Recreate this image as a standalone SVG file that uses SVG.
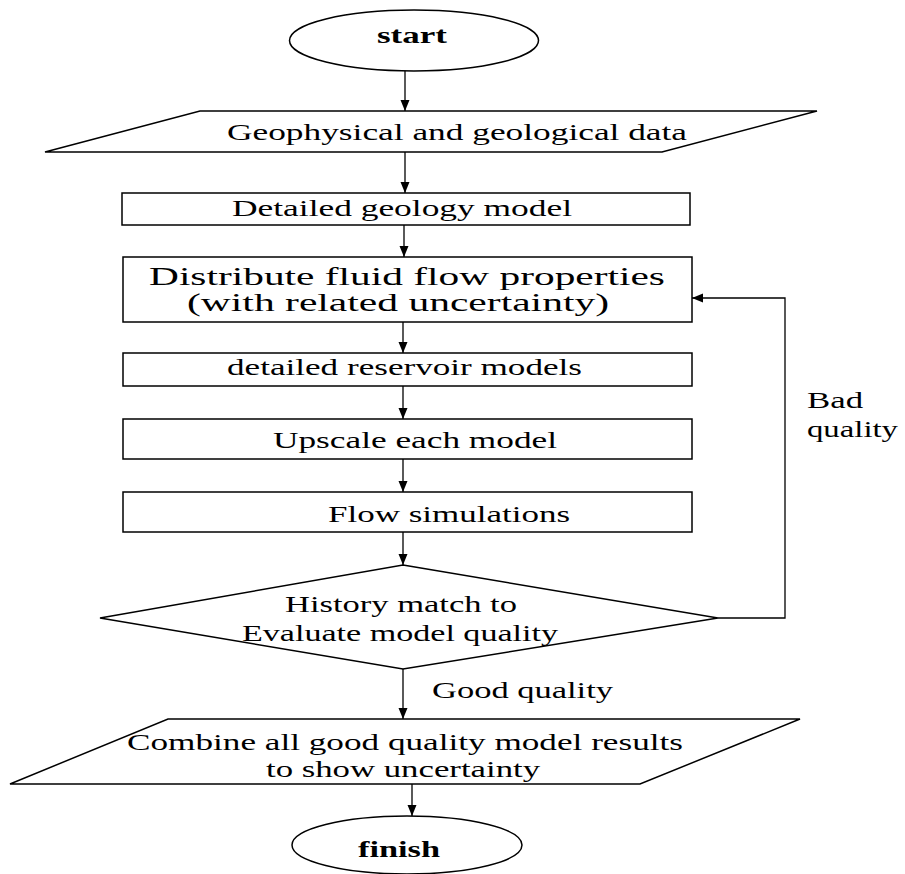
<svg xmlns="http://www.w3.org/2000/svg" width="905" height="874" viewBox="0 0 905 874">
<style>
.shape{fill:#fff;stroke:#000;stroke-width:1.5}
.conn{fill:none;stroke:#000;stroke-width:1.3}
text{font-family:"Liberation Serif","Times New Roman",serif;font-size:24px;fill:#000}
.b{font-weight:bold}
.big{font-size:25px}
</style>
<defs>
<marker id="arr" markerUnits="userSpaceOnUse" markerWidth="12" markerHeight="10" refX="11" refY="4.5" orient="auto">
<path d="M0,0 L11,4.5 L0,9 z" fill="#000"/>
</marker>
</defs>
<rect width="905" height="874" fill="#fff"/>
<g id="connectors">
<line class="conn" x1="405" y1="71" x2="405" y2="111" marker-end="url(#arr)"/>
<line class="conn" x1="405" y1="152" x2="405" y2="193" marker-end="url(#arr)"/>
<line class="conn" x1="404" y1="225" x2="404" y2="257" marker-end="url(#arr)"/>
<line class="conn" x1="403" y1="322" x2="403" y2="353" marker-end="url(#arr)"/>
<line class="conn" x1="403" y1="386" x2="403" y2="419" marker-end="url(#arr)"/>
<line class="conn" x1="403" y1="459" x2="403" y2="492" marker-end="url(#arr)"/>
<line class="conn" x1="403" y1="532" x2="403" y2="565" marker-end="url(#arr)"/>
<line class="conn" x1="403" y1="669" x2="403" y2="719" marker-end="url(#arr)"/>
<line class="conn" x1="412" y1="784" x2="412" y2="816" marker-end="url(#arr)"/>
<polyline class="conn" points="718,618 785,618 785,298 692,298" marker-end="url(#arr)"/>
<text transform="matrix(1.467 0 0 1 807 408)" textLength="38.2" lengthAdjust="spacingAndGlyphs">Bad</text>
<text transform="matrix(1.467 0 0 1 807 437)" textLength="62" lengthAdjust="spacingAndGlyphs">quality</text>
<text transform="matrix(1.467 0 0 1 432 698)" textLength="123.4" lengthAdjust="spacingAndGlyphs">Good quality</text>
</g>
<g id="start">
<ellipse class="shape" cx="414" cy="40.5" rx="124.5" ry="30.5"/>
<text class="b" transform="matrix(1.467 0 0 1 377 43)" textLength="47.7" lengthAdjust="spacingAndGlyphs">start</text>
</g>
<g id="data">
<polygon class="shape" points="200,111 817,111 662,152 45,152"/>
<text transform="matrix(1.467 0 0 1 227 140)" textLength="313.6" lengthAdjust="spacingAndGlyphs">Geophysical and geological data</text>
</g>
<g id="geology">
<rect class="shape" x="122" y="193" width="568" height="32"/>
<text transform="matrix(1.467 0 0 1 232 216)" textLength="231.8" lengthAdjust="spacingAndGlyphs">Detailed geology model</text>
</g>
<g id="distribute">
<rect class="shape" x="123" y="257" width="569" height="65"/>
<text class="big" transform="matrix(1.467 0 0 1 149 285)" textLength="351.7" lengthAdjust="spacingAndGlyphs">Distribute fluid flow properties</text>
<text class="big" transform="matrix(1.467 0 0 1 187 311)" textLength="287.7" lengthAdjust="spacingAndGlyphs">(with related uncertainty)</text>
</g>
<g id="reservoir">
<rect class="shape" x="123" y="353" width="569" height="33"/>
<text transform="matrix(1.467 0 0 1 227 375)" textLength="242" lengthAdjust="spacingAndGlyphs">detailed reservoir models</text>
</g>
<g id="upscale">
<rect class="shape" x="123" y="419" width="569" height="40"/>
<text transform="matrix(1.467 0 0 1 273 448)" textLength="193.6" lengthAdjust="spacingAndGlyphs">Upscale each model</text>
</g>
<g id="flowsim">
<rect class="shape" x="123" y="492" width="569" height="40"/>
<text transform="matrix(1.467 0 0 1 328 522)" textLength="165" lengthAdjust="spacingAndGlyphs">Flow simulations</text>
</g>
<g id="history">
<polygon class="shape" points="403,565 718,618 403,669 100,618"/>
<text transform="matrix(1.467 0 0 1 285 612)" textLength="158.1" lengthAdjust="spacingAndGlyphs">History match to</text>
<text transform="matrix(1.467 0 0 1 242 641)" textLength="215.4" lengthAdjust="spacingAndGlyphs">Evaluate model quality</text>
</g>
<g id="combine">
<polygon class="shape" points="168,719 800,719 640,784 10,784"/>
<text transform="matrix(1.467 0 0 1 127 750)" textLength="379" lengthAdjust="spacingAndGlyphs">Combine all good quality model results</text>
<text transform="matrix(1.467 0 0 1 266 777)" textLength="186.8" lengthAdjust="spacingAndGlyphs">to show uncertainty</text>
</g>
<g id="finish">
<ellipse class="shape" cx="407" cy="845" rx="115" ry="29"/>
<text class="b" transform="matrix(1.467 0 0 1 358 857)" textLength="55.9" lengthAdjust="spacingAndGlyphs">finish</text>
</g>
</svg>
